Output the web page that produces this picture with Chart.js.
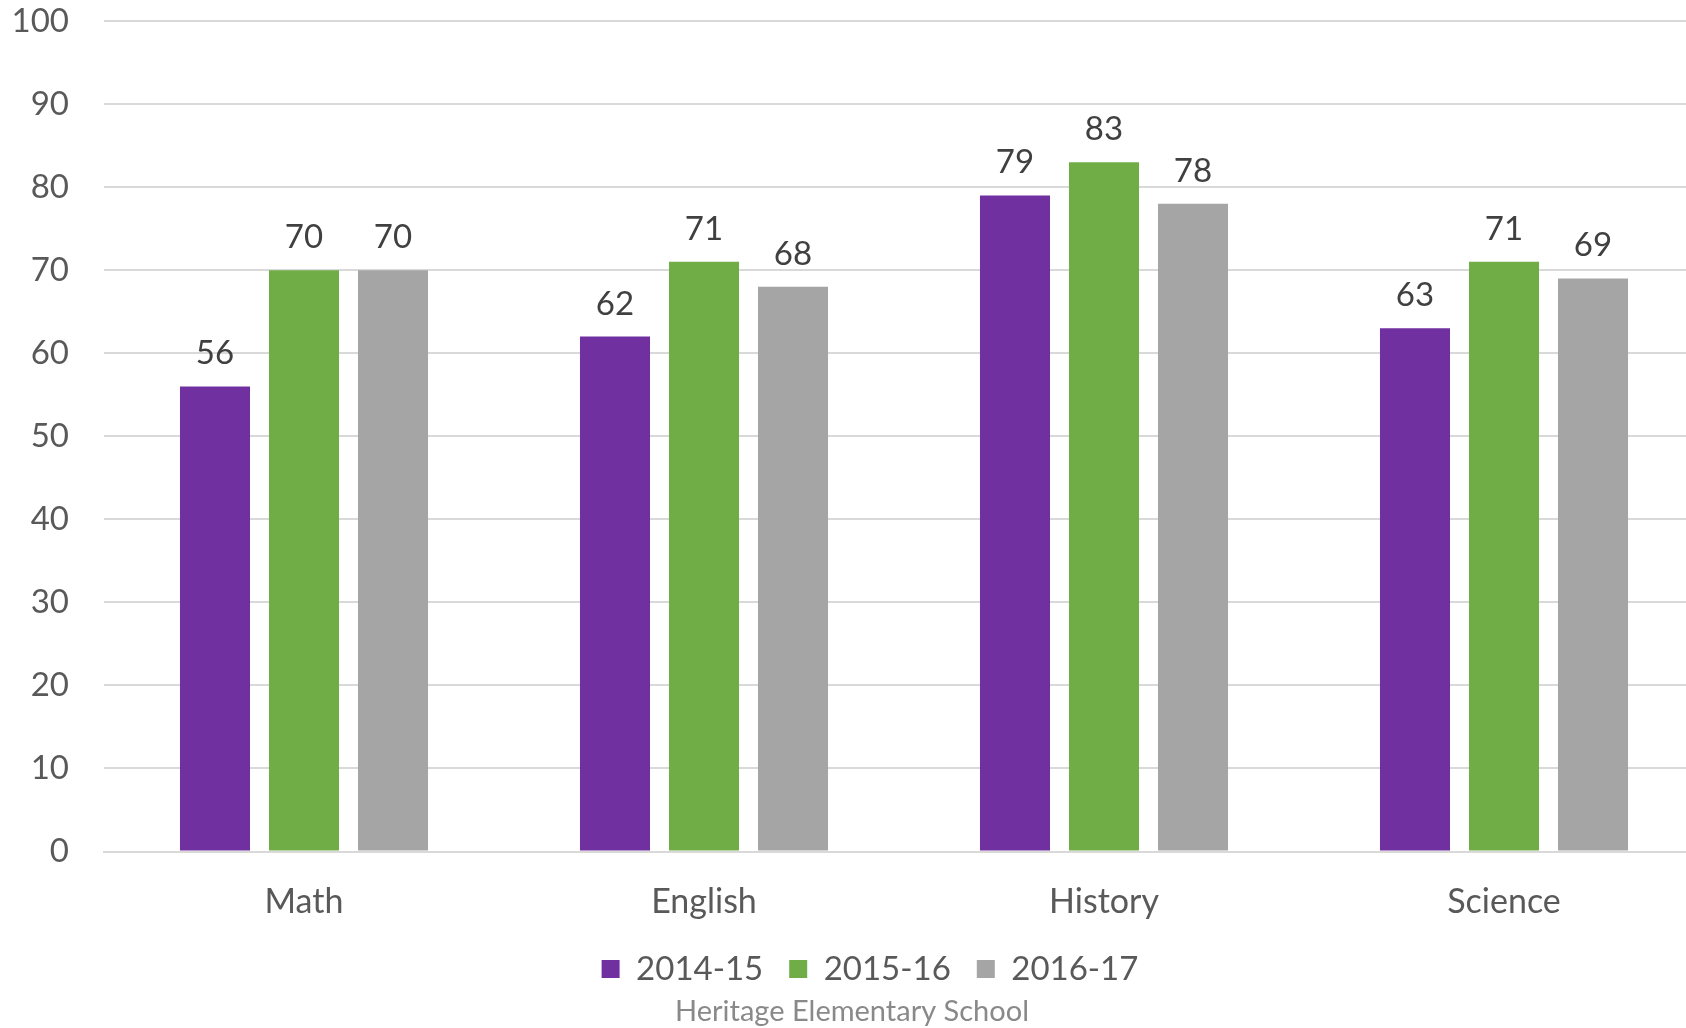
<!DOCTYPE html>
<html>
<head>
<meta charset="utf-8">
<script src="https://cdn.jsdelivr.net/npm/chart.js@4/dist/chart.umd.min.js"></script>
<style>
    html, body { margin: 0; padding: 0; background: #fff; overflow: hidden; }
    #wrap { width: 1704px; height: 1028px; position: relative; }
</style>
</head>
<body>
<div id="wrap"><canvas id="chart"></canvas></div>
<script>
// Chart data
const subjects = ['Math', 'English', 'History', 'Science'];
const years = ['2014-15', '2015-16', '2016-17'];
const scores1415 = [56, 62, 79, 63];
const scores1516 = [70, 71, 83, 71];
const scores1617 = [70, 68, 78, 69];
const barColors = ['#7030A0', '#70AD47', '#A5A5A5'];
const yTicks = [0, 10, 20, 30, 40, 50, 60, 70, 80, 90, 100];

const FONT = 'Lato, "Open Sans", sans-serif';

// draws the value above each bar
const valueLabels = {
    id: 'valueLabels',
    afterDatasetsDraw(chart) {
        const ctx = chart.ctx;
        ctx.save();
        ctx.font = '33px ' + FONT;
        ctx.fillStyle = '#404040';
        ctx.textAlign = 'center';
        ctx.textBaseline = 'alphabetic';
        chart.data.datasets.forEach((ds, i) => {
            const meta = chart.getDatasetMeta(i);
            meta.data.forEach((bar, j) => {
                ctx.fillText(ds.data[j], bar.x, bar.y - 22);
            });
        });
        ctx.restore();
    }
};

// legend in the original sits a little right of centre
const legendShift = {
    id: 'legendShift',
    afterLayout(chart) {
        if (chart.legend) chart.legend.left += 36;
    }
};

const seriesValues = [scores1415, scores1516, scores1617];

new Chart(document.getElementById('chart'), {
    type: 'bar',
    data: {
        labels: subjects,
        datasets: years.map((y, i) => ({
            label: y,
            data: seriesValues[i],
            backgroundColor: barColors[i],
            borderWidth: 0,
            categoryPercentage: 0.6675,
            barPercentage: 0.787
        }))
    },
    options: {
        responsive: true,
        maintainAspectRatio: false,
        devicePixelRatio: 1,
        animation: false,
        layout: { padding: 0 },
        plugins: {
            legend: {
                position: 'bottom',
                labels: {
                    boxWidth: 18,
                    boxHeight: 18,
                    padding: 26,
                    color: '#595959',
                    font: { family: FONT, size: 33 }
                }
            },
            subtitle: {
                display: true,
                position: 'bottom',
                text: 'Heritage Elementary School',
                color: '#898989',
                font: { family: FONT, size: 29, weight: 'normal', lineHeight: 1.12 },
                padding: { top: 0, bottom: 0 }
            },
            tooltip: { enabled: false }
        },
        scales: {
            x: {
                afterFit(scale) {
                    scale.height = 75;
                },
                grid: { display: false },
                border: { display: true, color: '#D9D9D9', width: 2 },
                ticks: {
                    color: '#595959',
                    font: { family: FONT, size: 34 },
                    padding: 22
                }
            },
            y: {
                min: 0,
                max: 100,
                afterBuildTicks(scale) {
                    scale.ticks = yTicks.map(v => ({ value: v }));
                },
                afterFit(scale) {
                    scale.width = 104;
                    scale.paddingTop = 21;
                    scale.paddingBottom = 20;
                },
                grid: { color: '#D9D9D9', lineWidth: 2, drawTicks: false },
                border: { display: false },
                ticks: {
                    color: '#595959',
                    font: { family: FONT, size: 33 },
                    padding: 35
                }
            }
        }
    },
    plugins: [valueLabels, legendShift]
});
</script>
</body>
</html>
